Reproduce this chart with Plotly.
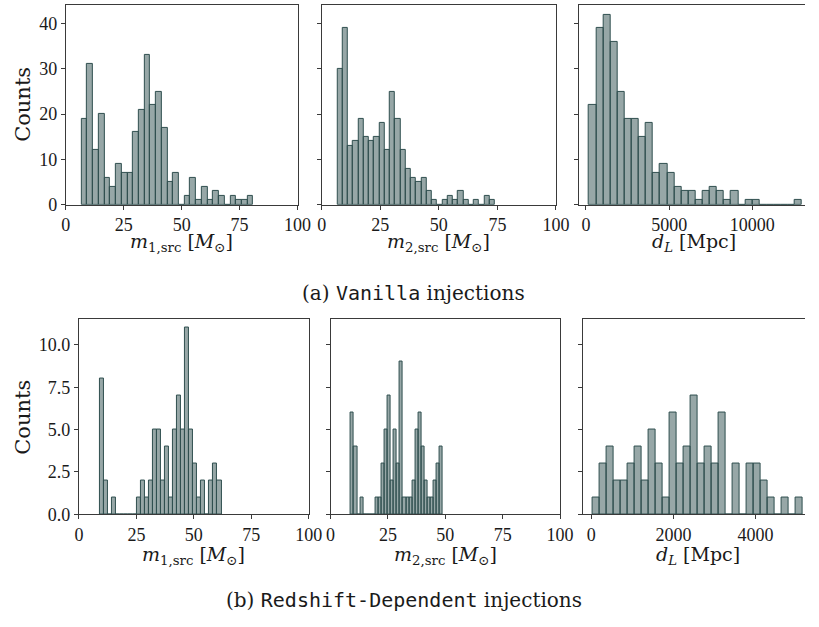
import plotly.graph_objects as go

# ---------------- data (30-bin histograms) ----------------
# (a) Vanilla injections
m1_vanilla_counts = [19, 31, 12, 20, 6, 4, 9, 7, 7, 16, 21, 33, 22, 25, 17, 5, 7, 0, 2, 6, 1, 4, 1, 3, 2, 0, 2, 1, 1, 2]
m1_vanilla_bin_start = 6.8
m1_vanilla_bin_width = 2.47

m2_vanilla_counts = [30, 39, 13, 14, 19, 15, 14, 15, 18, 12, 25, 19, 12, 8, 6, 5, 6, 3, 1, 0, 1, 2, 1, 3, 1, 0, 1, 0, 2, 1]
m2_vanilla_bin_start = 6.7
m2_vanilla_bin_width = 2.243

dl_vanilla_counts = [22, 39, 42, 36, 25, 19, 19, 15, 18, 7, 9, 7, 4, 3, 3, 1, 3, 4, 3, 1, 3, 0, 1, 1, 0, 0, 0, 0, 0, 1]
dl_vanilla_bin_start = 194
dl_vanilla_bin_width = 426.4

# (b) Redshift-Dependent injections
m1_redshift_counts = [8, 2, 0, 1, 0, 0, 0, 0, 0, 1, 2, 1, 2, 5, 5, 2, 4, 1, 5, 7, 5, 11, 5, 3, 1, 2, 0, 2, 3, 2]
m1_redshift_bin_start = 9.2
m1_redshift_bin_width = 1.76

m2_redshift_counts = [6, 4, 0, 1, 0, 0, 0, 0, 1, 1, 3, 5, 7, 2, 5, 3, 9, 1, 1, 1, 2, 5, 6, 4, 2, 1, 1, 2, 3, 4]
m2_redshift_bin_start = 8.9
m2_redshift_bin_width = 1.333

dl_redshift_counts = [1, 3, 4, 2, 2, 3, 4, 2, 5, 3, 1, 6, 3, 4, 7, 3, 4, 3, 6, 0, 3, 0, 3, 3, 2, 1, 0, 1, 0, 1]
dl_redshift_bin_start = 40
dl_redshift_bin_width = 170.3

mass_ticks = [0, 25, 50, 75, 100]
dl_vanilla_ticks = [0, 5000, 10000]
dl_redshift_ticks = [0, 2000, 4000]
top_yticks = [0, 10, 20, 30, 40]
bottom_yticks = [0, 2.5, 5, 7.5, 10]

m1_label = "<i>m</i><sub>1,src</sub> [<i>M</i><sub>⊙</sub>]"
m2_label = "<i>m</i><sub>2,src</sub> [<i>M</i><sub>⊙</sub>]"
dl_label = "<i>d</i><sub><i>L</i></sub> [Mpc]"

# ---------------- layout geometry (pixels) ----------------
W, H = 819, 627
TICKFONT = "Liberation Serif"
TEXTFONT = "DejaVu Serif"
EDGE = "rgb(47,79,79)"
FILL = "rgba(47,79,79,0.5)"
AXC = "#3a3a3a"
TXT = "#1a1a1a"

panels = [
    dict(c=m1_vanilla_counts, s=m1_vanilla_bin_start, w=m1_vanilla_bin_width,
         px=(62.3, 299.5), py=(5, 208), xr=[0, 100], xt=mass_ticks, yr=[0, 44.1], yt=top_yticks,
         yfmt="d", left=True, right=False, title=m1_label, ty=246),
    dict(c=m2_vanilla_counts, s=m2_vanilla_bin_start, w=m2_vanilla_bin_width,
         px=(324.3, 564.0), py=(5, 208), xr=[0, 100], xt=mass_ticks, yr=[0, 44.1], yt=top_yticks,
         yfmt="d", left=False, right=False, title=m2_label, ty=246),
    dict(c=dl_vanilla_counts, s=dl_vanilla_bin_start, w=dl_vanilla_bin_width,
         px=(587.3, 819), py=(5, 208), xr=[-434, 13163], xt=dl_vanilla_ticks, yr=[0, 44.1], yt=top_yticks,
         yfmt="d", left=False, right=True, title=dl_label, ty=246),
    dict(c=m1_redshift_counts, s=m1_redshift_bin_start, w=m1_redshift_bin_width,
         px=(75.7, 311.0), py=(323.7, 522.7), xr=[0, 100], xt=mass_ticks, yr=[0, 11.55], yt=bottom_yticks,
         yfmt=".1f", left=True, right=False, title=m1_label, ty=565),
    dict(c=m2_redshift_counts, s=m2_redshift_bin_start, w=m2_redshift_bin_width,
         px=(333.3, 568.3), py=(323.7, 522.7), xr=[0, 100], xt=mass_ticks, yr=[0, 11.55], yt=bottom_yticks,
         yfmt=".1f", left=False, right=False, title=m2_label, ty=565),
    dict(c=dl_redshift_counts, s=dl_redshift_bin_start, w=dl_redshift_bin_width,
         px=(591.3, 819), py=(323.7, 522.7), xr=[-214, 5207], xt=dl_redshift_ticks, yr=[0, 11.55], yt=bottom_yticks,
         yfmt=".1f", left=False, right=True, title=dl_label, ty=565),
]

fig = go.Figure()
layout = dict(
    width=W, height=H, autosize=False, margin=dict(l=0, r=0, t=0, b=0, pad=0),
    paper_bgcolor="white", plot_bgcolor="white", showlegend=False,
    font=dict(family=TICKFONT, size=18, color=TXT),
    bargap=0,
)
annotations = []

for i, p in enumerate(panels, start=1):
    n = len(p["c"])
    centers = [p["s"] + p["w"] * (k + 0.5) for k in range(n)]
    widths = [p["w"]] * n
    fig.add_trace(go.Bar(
        x=centers, y=p["c"], width=widths,
        marker=dict(color=FILL, line=dict(color=EDGE, width=1)),
        xaxis=f"x{i}", yaxis=f"y{i}", hoverinfo="skip",
    ))
    xd = [p["px"][0] / W, min(p["px"][1] / W, 1.0)]
    yd = [1 - p["py"][1] / H, 1 - p["py"][0] / H]
    key = "" if i == 1 else str(i)
    layout[f"xaxis{key}"] = dict(
        domain=xd, anchor=f"y{i}", range=p["xr"], tickvals=p["xt"],
        ticktext=[str(v) for v in p["xt"]],
        showline=True, linecolor=AXC, linewidth=1, mirror=True,
        ticks="outside", ticklen=4, tickcolor=AXC, tickwidth=1,
        showgrid=False, zeroline=False, tickfont=dict(family=TICKFONT, size=18, color=TXT),
    )
    layout[f"yaxis{key}"] = dict(
        domain=yd, anchor=f"x{i}", range=p["yr"], tickvals=p["yt"], tickformat=p["yfmt"],
        showline=True, linecolor=AXC, linewidth=1, mirror=(not p["right"]),
        ticks="outside", ticklen=4, tickcolor=AXC, tickwidth=1,
        showgrid=False, zeroline=False, showticklabels=p["left"],
        tickfont=dict(family=TICKFONT, size=18, color=TXT),
    )
    if p["right"]:
        xc = p["px"][0] + 237 / 2
    else:
        xc = (p["px"][0] + p["px"][1]) / 2
    annotations.append(dict(
        text=p["title"], x=xc / W, y=1 - p["ty"] / H, xref="paper", yref="paper",
        xanchor="center", yanchor="middle", showarrow=False,
        font=dict(family=TEXTFONT, size=19, color=TXT),
    ))

for yc in (106, 424):
    annotations.append(dict(
        text="Counts", x=19 / W, y=1 - yc / H, xref="paper", yref="paper",
        xanchor="center", yanchor="middle", textangle=-90, showarrow=False,
        font=dict(family=TEXTFONT, size=21, color=TXT),
    ))

MONO = "font-family:'DejaVu Sans Mono';"
annotations.append(dict(
    text=f"(a) <span style=\"{MONO}\">Vanilla</span> injections",
    x=418 / W, y=1 - 298 / H, xref="paper", yref="paper",
    xanchor="center", yanchor="middle", showarrow=False,
    font=dict(family=TEXTFONT, size=20, color=TXT),
))
annotations.append(dict(
    text=f"(b) <span style=\"{MONO}\">Redshift-Dependent</span> injections",
    x=408 / W, y=1 - 610 / H, xref="paper", yref="paper",
    xanchor="center", yanchor="middle", showarrow=False,
    font=dict(family=TEXTFONT, size=20, color=TXT),
))

layout["annotations"] = annotations
fig.update_layout(**layout)
fig.write_html("out.html")
